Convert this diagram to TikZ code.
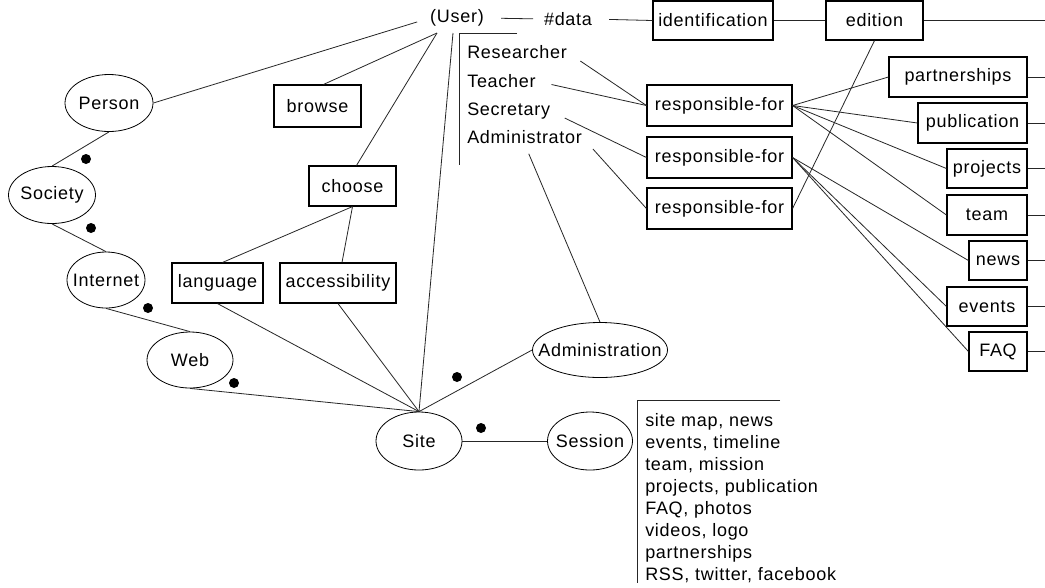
\documentclass[tikz,border=0pt]{standalone}
\usepackage{fontspec}
\setmainfont{Liberation Sans}[LetterSpace=4.0]
\usetikzlibrary{shapes.geometric,calc}
\begin{document}
\begin{tikzpicture}[x=0.75pt,y=-0.75pt,
  every node/.style={font=\fontsize{13.5}{16.5}\selectfont},
  box/.style 2 args={draw, line width=0.85pt, rectangle, inner sep=0,
    minimum width=#1*0.75pt, minimum height=#2*0.75pt},
  ent/.style 2 args={draw, ellipse, line width=0.6pt, inner sep=0,
    minimum width=#1*0.75pt, minimum height=#2*0.75pt},
  link/.style={line width=0.6pt, draw=black!85},
  lbl/.style={inner sep=0, anchor=base west},
  txt/.style={inner sep=0}]

\fill[white] (0,0) rectangle (1045,587);
\useasboundingbox (0,0) rectangle (1045,587);

% ---------- entities (ellipses) ----------
\node[ent={88}{57}]  (person)   at (109,103) {\makebox[0pt]{Person}};
\node[ent={87}{57}]  (society)  at (52,195)  {\makebox[0pt]{Society}};
\node[ent={78}{56}]  (internet) at (106,280) {\makebox[0pt]{Internet}};
\node[ent={86}{56}]  (web)      at (190,360) {\makebox[0pt]{Web}};
\node[ent={86}{58}]  (site)     at (419,441) {\makebox[0pt]{Site}};
\node[ent={85}{58}]  (session)  at (590,441) {\makebox[0pt]{Session}};
\node[ent={135}{55}] (admin)    at (600,350) {\makebox[0pt]{Administration}};

% ---------- boxes ----------
\node[box={120}{39}] (ident)  at (713,20.5)   {identification};
\node[box={97}{39}]  (edit)   at (874.5,20.5) {edition};
\node[box={138}{40}] (part)   at (958,77)     {partnerships};
\node[box={109}{40}] (pub)    at (972.5,123)  {publication};
\node[box={80}{39}]  (proj)   at (987,168.5)  {projects};
\node[box={80}{40}]  (team)   at (987,215)    {team};
\node[box={58}{39}]  (news)   at (998,260.5)  {news};
\node[box={80}{39}]  (events) at (987,306.5)  {events};
\node[box={58}{39}]  (faq)    at (998,351.5)  {FAQ};
\node[box={145}{41}] (respA)  at (719.5,105.5) {responsible-for};
\node[box={145}{41}] (respB)  at (719.5,157.5) {responsible-for};
\node[box={145}{41}] (respC)  at (719.5,208.5) {responsible-for};
\node[box={87}{42}]  (browse) at (317.5,106)  {browse};
\node[box={87}{40}]  (choose) at (352.5,186)  {choose};
\node[box={91}{40}]  (lang)   at (217.5,283)  {language};
\node[box={116}{40}] (access) at (338,283)    {accessibility};

% ---------- plain texts ----------
\node[txt] (user) at (457,18) {(User)};
\node[txt] (data) at (568,19) {\#data};
\node[lbl] (researcher)    at (467,58.5)  {Researcher};
\node[lbl] (teacher)       at (467,87.5)  {Teacher};
\node[lbl] (secretary)     at (467,115.5) {Secretary};
\node[lbl] (administrator) at (467,143.5) {Administrator};
\node[txt, anchor=north west, align=left] (contents) at (645,413)
  {site map, news\\events, timeline\\team, mission\\projects, publication\\FAQ, photos\\videos, logo\\partnerships\\RSS, twitter, facebook};

% ---------- hub points and free ends ----------
\coordinate (uL) at (437,33);
\coordinate (uR) at (453,33);
\coordinate (eR) at (1045,20.5);

% ---------- top row ----------
\draw[link, shorten <=12.75pt, shorten >=8pt] (user.east) -- (data.west);
\draw[link, shorten <=12.75pt] (data.east) -- (ident.west);
\draw[link] (ident.east) -- (edit.west);
\draw[link] (edit.east) -- (eR);
\foreach \n in {part,pub,proj,team,news,events,faq}
  \draw[link] (\n.east) -- (\n.east -| eR);

% ---------- roles ----------
\draw[link] (517,33) -- (459,33) -- (459,165);
\draw[link, shorten <=12pt] (researcher.east) -- (respA.west);
\draw[link, shorten <=12pt] (teacher.east) -- (respA.west);
\draw[link, shorten <=12pt] (secretary.east) -- (respB.west);
\draw[link, shorten <=12pt] (administrator.east) -- (respC.west);
\draw[link, shorten <=8pt] (administrator.south) -- (admin.north);
\draw[link] (edit.south) -- (respC.east);
\foreach \n in {part,pub,proj,team}
  \draw[link] (respA.east) -- (\n.west);
\foreach \n in {news,events,faq}
  \draw[link] (respB.east) -- (\n.west);

% ---------- user and site ----------
\draw[link, shorten >=10pt] (person.east) -- (user.west);
\draw[link] (uL) -- ($(browse.north)+(6,0)$);
\draw[link] (uL) -- ($(choose.north)+(4,0)$);
\draw[link] (uR) -- (site.north);
\draw[link] (choose.south) -- ($(lang.north)+(5,0)$);
\draw[link] (choose.south) -- ($(access.north)+(4,0)$);
\draw[link] (lang.south) -- (site.north);
\draw[link] (access.south) -- (site.north);
\draw[link] (web.south) -- (site.north);
\draw[link] (site.north) -- (admin.west);
\draw[link] (site.east) -- (session.west);

% ---------- generalisation chain ----------
\draw[link] (person.south) -- (society.north);
\draw[link] (society.south) -- (internet.north);
\draw[link] (internet.south) -- (web.north);

% ---------- session contents bracket ----------
\draw[link] (780,400) -- (637,400) -- (637,583);

% ---------- dots ----------
\foreach \p in {(86,159),(91,228),(148,308),(234,383),(457,377),(481,428)}
  \fill \p circle[radius=5];
\end{tikzpicture}
\end{document}
